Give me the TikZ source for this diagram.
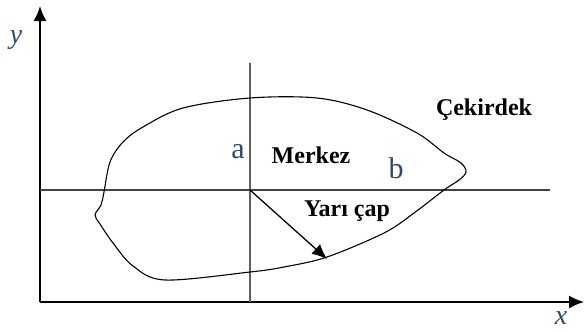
\documentclass[tikz,border=0pt]{standalone}
\usepackage{fontspec}
\setmainfont{Liberation Serif}
\usepackage{xcolor}
\usetikzlibrary{arrows.meta,positioning,calc}
\definecolor{axlabel}{RGB}{52,72,112}
\definecolor{guide}{RGB}{95,95,95}

\begin{document}
\begin{tikzpicture}[x=1pt,y=-1pt,
	boldlabel/.style={font=\fontsize{24}{26}\selectfont\bfseries,inner sep=0pt},
	letterlabel/.style={font=\fontsize{30}{32}\selectfont,text=axlabel,inner sep=0pt},
	axislabel/.style={font=\fontsize{28}{30}\selectfont\itshape,text=axlabel,inner sep=0pt},
	bigtip/.style={-{Latex[length=15pt,width=13pt]}}]
	\useasboundingbox (0,0) rectangle (584,332);
	% axes
	\coordinate (O) at (40,302);
	\coordinate (ytop) at (40,6);
	\coordinate (xend) at (584,302);
	\draw[bigtip,line width=1.8pt] (O) -- (ytop);
	\draw[bigtip,line width=1.8pt] (O) -- (xend);
	\node[axislabel] (ylab) at (16,40) {y};
	\node[axislabel] (xlab) at (561,318) {x};
	
	% guide lines through the centre
	\coordinate (C) at (250,190);
	\coordinate (vtop) at (250,63);
	\coordinate (vbot) at (250,302);
	\coordinate (hleft) at (40,190);
	\coordinate (hright) at (550,190);
	\draw[guide,line width=1.5pt] (vtop) -- (vbot);
	\draw[guide!70!black,line width=1.5pt] (hleft) -- (hright);
	
	% outline of the kernel
	\draw[line width=1.1pt] plot[smooth cycle,tension=0.55] coordinates {
		(250,98) (317,98) (367,110) (417,133) (444,153) (461,163) (466,172)
		(459,180) (444,190) (414,213) (384,233) (327,257) (284,267) (250,272)
		(165,280) (133,266) (113,243) (100,224) (95,215) (101,205)
		(104,192) (110,162) (123,142) (143,127) (183,108)};
	
	% radius
	\coordinate (R) at (327,259);
	\draw[bigtip,line width=1.3pt] (C) -- (R);
	
	% labels
	\node[letterlabel] (a) at (238,152) {a};
	\node[letterlabel] (b) at (396,168) {b};
	\node[boldlabel] (merkez) at (311,155) {Merkez};
	\node[boldlabel] (yaricap) at (347,211) {Yarı çap};
	\node[boldlabel] (cekirdek) at (484,110) {Çekirdek};
\end{tikzpicture}
\end{document}
